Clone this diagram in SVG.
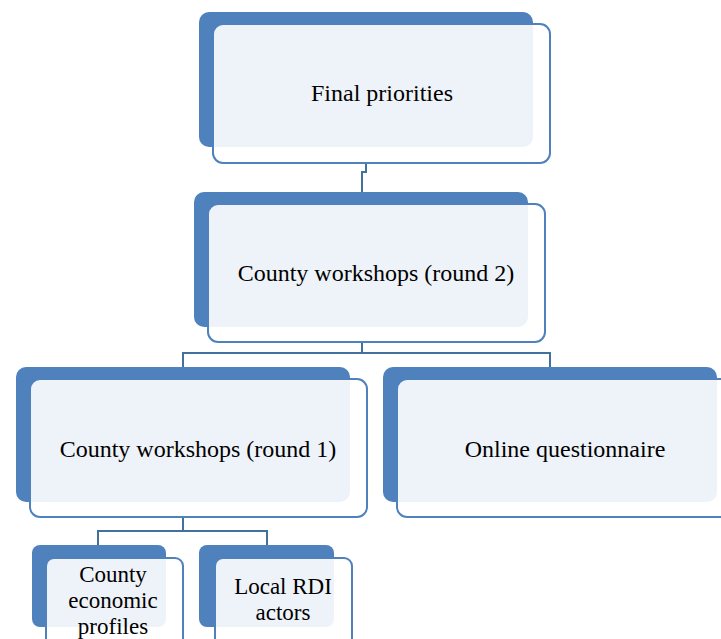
<svg xmlns="http://www.w3.org/2000/svg" width="721" height="639" viewBox="0 0 721 639">
<style>
.back{fill:#4F81BD;}
.front{fill:#FFFFFF;fill-opacity:0.9;stroke:#4F81BD;stroke-width:2;}
.lbl{font-family:"Liberation Serif",serif;font-size:24px;fill:#000;text-anchor:middle;}
.sm{font-size:23px;}
.conn{fill:none;stroke:#41719C;stroke-width:2;}
</style>
<rect width="721" height="639" fill="#FFFFFF"/>
<g id="connectors">
<path class="conn" d="M366 163 V172 H362 V192"/>
<path class="conn" d="M362 342 V353"/>
<path class="conn" d="M183 367 V353 H550 V367"/>
<path class="conn" d="M183 517 V531"/>
<path class="conn" d="M98 545 V531 H267 V545"/>
</g>
<g id="final">
<rect class="back" x="199" y="12" width="334" height="135" rx="10"/>
<rect class="front" x="213" y="24" width="337" height="139" rx="10"/>
<text class="lbl" x="382" y="101">Final priorities</text>
</g>
<g id="round2">
<rect class="back" x="194" y="192" width="334" height="135" rx="10"/>
<rect class="front" x="208" y="204" width="337" height="138" rx="10"/>
<text class="lbl" x="376" y="281">County workshops (round 2)</text>
</g>
<g id="round1">
<rect class="back" x="16" y="367" width="334" height="135" rx="10"/>
<rect class="front" x="30" y="379" width="337" height="138" rx="10"/>
<text class="lbl" x="198" y="457">County workshops (round 1)</text>
</g>
<g id="online">
<rect class="back" x="383" y="367" width="334" height="135" rx="10"/>
<rect class="front" x="397" y="379" width="337" height="138" rx="10"/>
<text class="lbl" x="565" y="457">Online questionnaire</text>
</g>
<g id="profiles">
<rect class="back" x="32" y="545" width="134" height="82" rx="8"/>
<rect class="front" x="46" y="558" width="137" height="90" rx="8"/>
<text class="lbl sm" x="113" y="582">County</text>
<text class="lbl sm" x="113" y="608">economic</text>
<text class="lbl sm" x="113" y="634">profiles</text>
</g>
<g id="rdi">
<rect class="back" x="199" y="545" width="135" height="82" rx="8"/>
<rect class="front" x="215" y="558" width="137" height="90" rx="8"/>
<text class="lbl sm" x="283" y="594">Local RDI</text>
<text class="lbl sm" x="283" y="620">actors</text>
</g>
</svg>
